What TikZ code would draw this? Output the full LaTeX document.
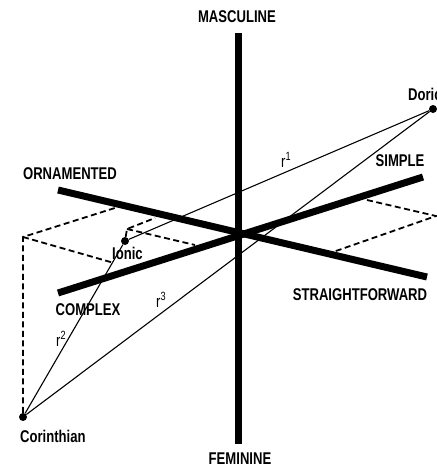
\documentclass[tikz,border=0pt]{standalone}
\usepackage{fontspec}
\setmainfont{Liberation Sans}[FakeStretch=0.77]
\begin{document}
\begin{tikzpicture}[x=1pt,y=-1pt,
  axis/.style={line width=7pt},
  proj/.style={line width=1.8pt, dash pattern=on 6pt off 3.5pt},
  ray/.style={line width=1.1pt},
  lbl/.style={font=\fontsize{17}{20}\selectfont\bfseries, inner sep=0pt},
  rlbl/.style={font=\fontsize{17}{20}\selectfont, inner sep=0pt},
  pt/.style={circle, fill=black, inner sep=0pt, minimum size=8pt}]
\useasboundingbox (0,0) rectangle (437,467);
% points
\node[pt] (D) at (433,109) {};
\node[pt] (I) at (125,241) {};
\node[pt] (C) at (23,417) {};
% axis ends
\coordinate (Mt) at (238,33);
\coordinate (Fb) at (238,444);
\coordinate (Oa) at (58,190);
\coordinate (Sf) at (427,277);
\coordinate (Cx) at (58,293);
\coordinate (Si) at (423,177);
% projection points
\coordinate (Cp) at (23,237);
\coordinate (Cp1) at (118,207);
\coordinate (Cp2) at (114,263);
\coordinate (Ip) at (127,229);
\coordinate (Ip1) at (155,218);
\coordinate (Ip2) at (195,245);
\coordinate (Dp) at (436,216);
\coordinate (Dp1) at (367,200);
\coordinate (Dp2) at (333,252);
% dashed projections
\draw[proj] (C) -- (Cp) -- (Cp1);
\draw[proj] (Cp) -- (Cp2);
\draw[proj] (I) -- (Ip) -- (Ip1);
\draw[proj] (Ip) -- (Ip2);
\draw[proj] (Dp1) -- (Dp) -- (Dp2);
% rays
\draw[ray] (D) -- (I);
\draw[ray] (D) -- (C);
\draw[ray] (C) -- (I);
% axes
\draw[axis] (Mt) -- (Fb);
\draw[axis] (Oa) -- (Sf);
\draw[axis] (Cx) -- (Si);
% labels
\node[lbl] (lm) at (237,17) {MASCULINE};
\node[lbl] (lf) at (240,459) {FEMININE};
\node[lbl] (lo) at (70,174) {ORNAMENTED};
\node[lbl] (ls) at (400,161) {SIMPLE};
\node[lbl] (lc) at (88,310) {COMPLEX};
\node[lbl] (lsf) at (360,295) {STRAIGHTFORWARD};
\node[lbl, anchor=base west] (ld) at (408,100) {Doric};
\node[lbl, anchor=base west] (li) at (112,259) {Ionic};
\node[lbl, anchor=base west] (lco) at (20,442) {Corinthian};
\node[rlbl, anchor=base west] (r1) at (281,167) {r\textsuperscript{1}};
\node[rlbl, anchor=base west] (r2) at (56,346) {r\textsuperscript{2}};
\node[rlbl, anchor=base west] (r3) at (156,307) {r\textsuperscript{3}};
\end{tikzpicture}
\end{document}
